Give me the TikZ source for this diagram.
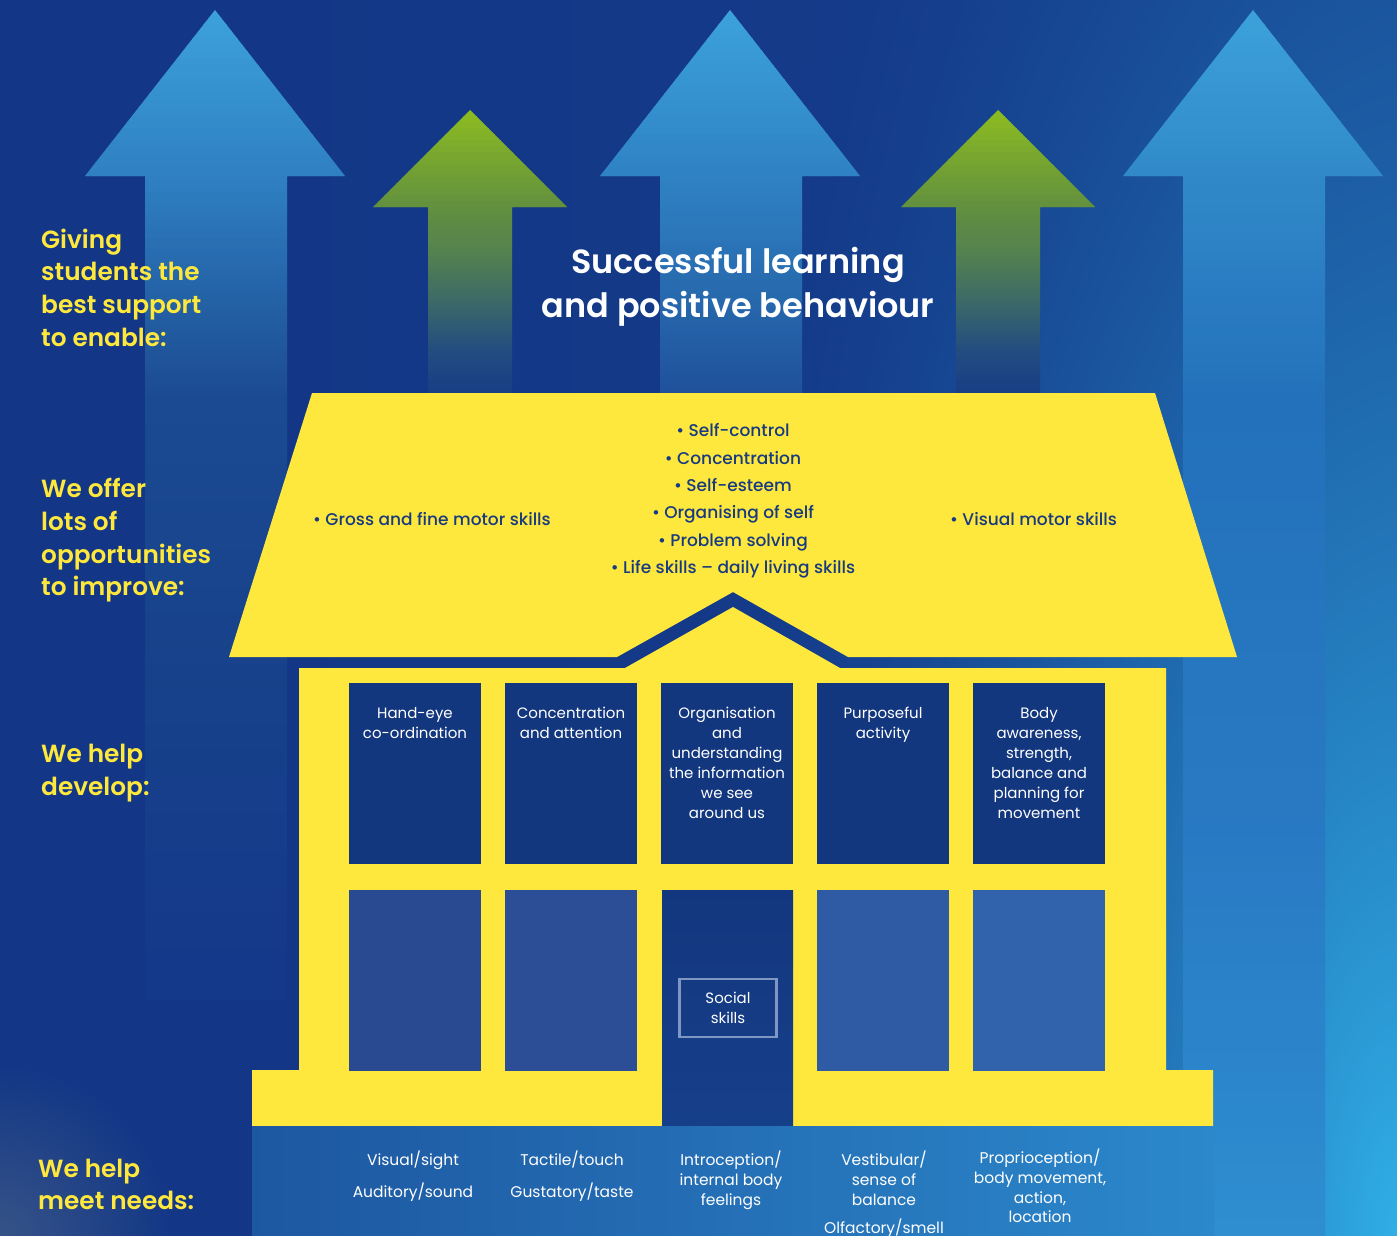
\documentclass[tikz,border=0pt]{standalone}
\usepackage{fontspec}
\setmainfont{Poppins}
\newfontfamily\popmed{Poppins Medium}
\newfontfamily\popsemi{Poppins SemiBold}
\usetikzlibrary{positioning}

\definecolor{basenavy}{HTML}{13378A}
\definecolor{houseyellow}{HTML}{FFE83D}
\definecolor{roofnavy}{HTML}{173A80}
\definecolor{winnavy}{HTML}{13377F}
\definecolor{doornavy}{HTML}{163F8A}
\definecolor{bandleft}{HTML}{1D57A1}
\definecolor{bandright}{HTML}{2C88CB}
\definecolor{socialline}{HTML}{8097C4}
% arrow colour stops
\definecolor{tipblue}{HTML}{3CA2DA}
\definecolor{lfa}{HTML}{2F80C3}
\definecolor{lfb}{HTML}{2461A5}
\definecolor{lfc}{HTML}{1B4A92}
\definecolor{lfd}{HTML}{17418A}
\definecolor{lfe}{HTML}{14388A}
\definecolor{mda}{HTML}{2F82C4}
\definecolor{mdb}{HTML}{2768AD}
\definecolor{mdc}{HTML}{1E4F98}
\definecolor{rta}{HTML}{3189C9}
\definecolor{rtb}{HTML}{2371BB}
\definecolor{rtc}{HTML}{2878C2}
\definecolor{rtd}{HTML}{2E8ED0}
\definecolor{tipgreen}{HTML}{8DBC20}
\definecolor{gna}{HTML}{62903F}
\definecolor{gnb}{HTML}{55834E}
\definecolor{gnc}{HTML}{3D6A67}
\definecolor{gnd}{HTML}{234D80}
\definecolor{gne}{HTML}{163B87}

% background: navy, lighter towards the lower right corner
\pgfdeclarefunctionalshading{bgshade}{\pgfpoint{-4pt}{-4pt}}{\pgfpoint{1401pt}{1240pt}}{}{
  2 copy
  1990 div dup mul
  exch 1392 exch sub 733 div dup mul
  add sqrt
  1 exch sub dup abs add 2 div
  1.7 exp
  2 index 1392 div dup mul 0.08 mul add
  3 1 roll
  dup mul exch dup mul add sqrt 170 div
  1 exch sub dup abs add 2 div 0.4 mul
  1 index 0.1055 mul 1 index 0.3415 mul add 0.0745 add
  2 index 0.4353 mul 2 index 0.2703 mul add 0.2157 add
  3 index 0.3495 mul 3 index 0.0075 mul add 0.5255 add
  5 -2 roll pop pop
}

\begin{document}
\begin{tikzpicture}[
    x=1pt, y=-1pt,
    every node/.style={inner sep=0pt},
    sidelabel/.style={anchor=west, align=left, text=houseyellow, font=\popsemi\fontsize{24.8}{32.7}\selectfont},
    titletext/.style={align=center, text=white, font=\popsemi\fontsize{33.5}{44}\selectfont},
    rooftext/.style={align=center, text=roofnavy, font=\popmed\fontsize{17}{27.4}\selectfont},
    topwin/.style={fill=winnavy, minimum width=132pt, minimum height=181pt},
    lowwin/.style={minimum width=132pt, minimum height=181pt},
    doorbox/.style={top color=winnavy, bottom color=doornavy, minimum width=131pt, minimum height=236pt},
    winlabel/.style={anchor=north, align=center, text=white, font=\fontsize{15}{20}\selectfont},
    socialbox/.style={draw=socialline, line width=2.5pt, minimum width=97pt, minimum height=58pt, align=center, text=white, font=\fontsize{15}{20}\selectfont},
    needtext/.style={align=center, text=white, font=\fontsize{15.5}{19.8}\selectfont}
]

% background
\useasboundingbox (0,0) rectangle (1397,1236);
\clip (0,0) rectangle (1397,1236);
\fill[basenavy] (0,0) rectangle (1397,1236);
\node[anchor=south west] (bg) at (-4,1240) {\pgfuseshading{bgshade}};

% arrows, filled in thin bands from tip to foot
\begin{scope}
  \clip (215,10) -- (345,176) -- (287,176) -- (287,1000) -- (145,1000) -- (145,176) -- (85,176) -- cycle;
  \foreach \ya/\yb/\ca/\cb in {10/176/tipblue/lfa, 176/300/lfa/lfb, 300/400/lfb/lfc, 400/700/lfc/lfd, 700/1000/lfd/lfe}
    \foreach \k in {1,...,24} {
      \pgfmathsetmacro{\pc}{100*(\k-0.5)/24}
      \pgfmathsetmacro{\ys}{\ya+(\k-1)*(\yb-\ya)/24}
      \pgfmathsetmacro{\ye}{\ya+\k*(\yb-\ya)/24+1}
      \fill[\cb!\pc!\ca] (0,\ys) rectangle (1397,\ye);
    }
\end{scope}
\begin{scope}
  \clip (730,10) -- (860,176) -- (802,176) -- (802,400) -- (660,400) -- (660,176) -- (600,176) -- cycle;
  \foreach \ya/\yb/\ca/\cb in {10/176/tipblue/mda, 176/300/mda/mdb, 300/400/mdb/mdc}
    \foreach \k in {1,...,24} {
      \pgfmathsetmacro{\pc}{100*(\k-0.5)/24}
      \pgfmathsetmacro{\ys}{\ya+(\k-1)*(\yb-\ya)/24}
      \pgfmathsetmacro{\ye}{\ya+\k*(\yb-\ya)/24+1}
      \fill[\cb!\pc!\ca] (0,\ys) rectangle (1397,\ye);
    }
\end{scope}
\begin{scope}
  \clip (1253,10) -- (1383,176) -- (1325,176) -- (1325,1236) -- (1183,1236) -- (1183,176) -- (1123,176) -- cycle;
  \foreach \ya/\yb/\ca/\cb in {10/176/tipblue/rta, 176/400/rta/rtb, 400/800/rtb/rtc, 800/1236/rtc/rtd}
    \foreach \k in {1,...,24} {
      \pgfmathsetmacro{\pc}{100*(\k-0.5)/24}
      \pgfmathsetmacro{\ys}{\ya+(\k-1)*(\yb-\ya)/24}
      \pgfmathsetmacro{\ye}{\ya+\k*(\yb-\ya)/24+1}
      \fill[\cb!\pc!\ca] (0,\ys) rectangle (1397,\ye);
    }
\end{scope}
\foreach \cx in {470,998} {
  \begin{scope}
    \clip (\cx,110) -- (\cx+97,207) -- (\cx+42,207) -- (\cx+42,400) -- (\cx-42,400) -- (\cx-42,207) -- (\cx-97,207) -- cycle;
    \foreach \ya/\yb/\ca/\cb in {110/207/tipgreen/gna, 207/250/gna/gnb, 250/300/gnb/gnc, 300/350/gnc/gnd, 350/400/gnd/gne}
      \foreach \k in {1,...,16} {
        \pgfmathsetmacro{\pc}{100*(\k-0.5)/16}
        \pgfmathsetmacro{\ys}{\ya+(\k-1)*(\yb-\ya)/16}
        \pgfmathsetmacro{\ye}{\ya+\k*(\yb-\ya)/16+1}
        \fill[\cb!\pc!\ca] (0,\ys) rectangle (1397,\ye);
      }
  \end{scope}
}

% side labels
\node[sidelabel] (enable) at (41,287.5) {Giving\\students the\\best support\\to enable:};
\node[sidelabel] (improve) at (41,540.5) {We offer\\lots of\\opportunities\\to improve:};
\node[sidelabel] (develop) at (41,773) {We help\\develop:};
\node[sidelabel] (needs) at (38,1184.5) {We help\\meet needs:};

% title
\node[titletext] (goal) at (738,287) {Successful learning\\and positive behaviour};

% roof
\fill[houseyellow] (312,393) -- (1155,393) -- (1237,657) -- (848,657) -- (733,592)
  -- (617,657) -- (229,657) -- cycle;
\node[rooftext] (skills) at (733,501) {\textbullet{} Self-control\\\textbullet{} Concentration\\\textbullet{} Self-esteem\\\textbullet{} Organising of self\\\textbullet{} Problem solving\\\textbullet{} Life skills \textendash{} daily living skills};
\node[rooftext, anchor=west] (motor) at (313,519) {\textbullet{} Gross and fine motor skills};
\node[rooftext, anchor=west] (visual) at (950,519) {\textbullet{} Visual motor skills};

% house body
\fill[houseyellow] (299,668) -- (625,668) -- (733,607) -- (840,668) -- (1166,668)
  -- (1166,1070) -- (1213,1070) -- (1213,1126) -- (252,1126) -- (252,1070)
  -- (299,1070) -- cycle;

% upper windows
\node[topwin] (w1) at (415,773.5) {};
\node[topwin] (w2) at (571,773.5) {};
\node[topwin] (w3) at (727,773.5) {};
\node[topwin] (w4) at (883,773.5) {};
\node[topwin] (w5) at (1039,773.5) {};
\node[winlabel, below=24pt of w1.north] (handeye) {Hand-eye\\co-ordination};
\node[winlabel, below=24pt of w2.north] (attention) {Concentration\\and attention};
\node[winlabel, below=24pt of w3.north] (organise) {Organisation\\and\\understanding\\the information\\we see\\around us};
\node[winlabel, below=24pt of w4.north] (purpose) {Purposeful\\activity};
\node[winlabel, below=24pt of w5.north] (body) {Body\\awareness,\\strength,\\balance and\\planning for\\movement};

% lower windows and door
\node[lowwin, fill={rgb,255:red,41;green,74;blue,145}] (b1) at (415,980.5) {};
\node[lowwin, fill={rgb,255:red,43;green,78;blue,150}] (b2) at (571,980.5) {};
\node[doorbox] (door) at (727.5,1008) {};
\node[lowwin, fill={rgb,255:red,47;green,91;blue,165}] (b4) at (883,980.5) {};
\node[lowwin, fill={rgb,255:red,49;green,98;blue,172}] (b5) at (1039,980.5) {};
\node[socialbox] (social) at (728,1008) {Social\\skills};

% needs band
\shade[left color=bandleft, right color=bandright] (252,1126) rectangle (1214,1236);
\node[needtext] (sight) at (413,1160) {Visual/sight};
\node[needtext] (sound) at (413,1192) {Auditory/sound};
\node[needtext] (touch) at (572,1160) {Tactile/touch};
\node[needtext] (taste) at (572,1192) {Gustatory/taste};
\node[needtext] (intro) at (731,1180) {Introception/\\internal body\\feelings};
\node[needtext] (vesti) at (884,1178) {Vestibular/\\sense of\\balance};
\node[needtext] (smell) at (884,1228) {Olfactory/smell};
\node[needtext] (proprio) at (1040,1186) {Proprioception/\\body movement,\\action,\\location};

\end{tikzpicture}
\end{document}
